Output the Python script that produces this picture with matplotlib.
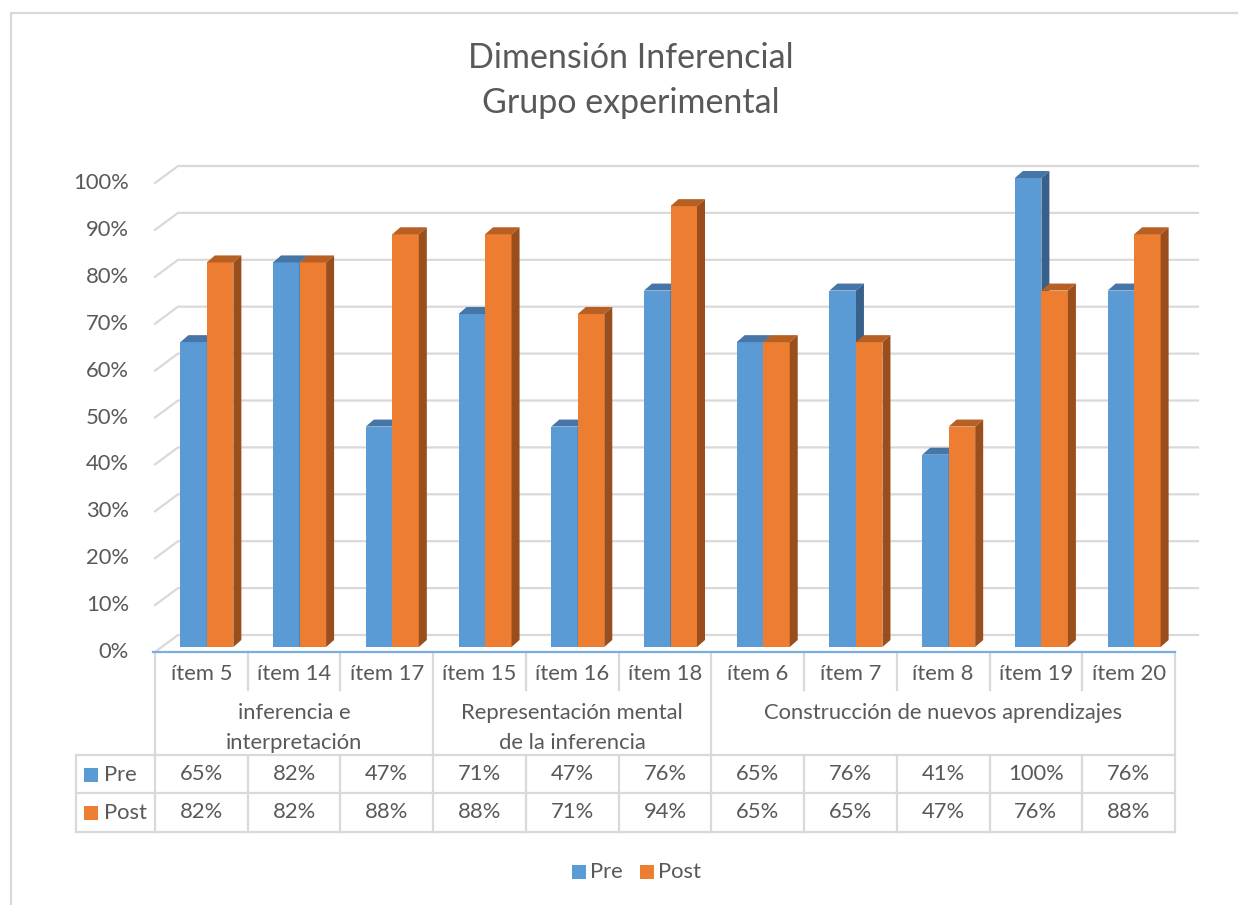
import numpy as np
import matplotlib
matplotlib.use('Agg')
import matplotlib.pyplot as plt
from matplotlib.patches import Polygon, Rectangle

# Data
items = ['ítem 5', 'ítem 14', 'ítem 17', 'ítem 15', 'ítem 16', 'ítem 18',
         'ítem 6', 'ítem 7', 'ítem 8', 'ítem 19', 'ítem 20']
groups = ['inferencia e\ninterpretación', 'Representación mental\nde la inferencia',
          'Construcción de nuevos aprendizajes']
group_sizes = [3, 3, 5]
pre = [0.65, 0.82, 0.47, 0.71, 0.47, 0.76, 0.65, 0.76, 0.41, 1.00, 0.76]
post = [0.82, 0.82, 0.88, 0.88, 0.71, 0.94, 0.65, 0.65, 0.47, 0.76, 0.88]
yticks = np.arange(0, 1.01, 0.1)

plt.rcParams['font.family'] = ['Lato', 'DejaVu Sans']
TXT = '#595959'
GRID = '#D9D9D9'
FS = 15.8

W, H = 1238, 905
fig = plt.figure(figsize=(W / 100, H / 100), dpi=100)

# plot area (front plane) in pixels
X0, X1, Y0, Y1 = 155, 1175, 652, 183
ax = fig.add_axes([X0 / W, (H - Y0) / H, (X1 - X0) / W, (Y0 - Y1) / H])
n = len(items)
ax.set_xlim(-0.5, n - 0.5)
ax.set_ylim(0, 1)
ax.axis('off')

PX = (X1 - X0) / n
PY = Y0 - Y1


def dx(p):
    return p / PX


def dy(p):
    return p / PY


def xv(p):  # pixel x -> data x
    return -0.5 + (p - X0) / PX


def yv(p):  # pixel y -> data y
    return (Y0 - p) / PY


# gridlines with a bit of depth
gdx, gdy = dx(23), dy(17)
for t in yticks:
    ax.plot([-0.5, -0.5 + gdx, n - 0.5 + gdx], [t, t + gdy, t + gdy],
            color=GRID, lw=1.6, zorder=1, clip_on=False)
    ax.text(xv(X0 - 26), t, f'{int(round(t * 100))}%', ha='right', va='center',
            fontsize=FS, color=TXT)

# axis line
ax.plot([xv(X0 - 2), n - 0.5], [0, 0], color='#7AAEE0', lw=1.6, zorder=2, clip_on=False)

# 3D bars
w = dx(26.5)
bz = dy(5)
ddx, ddy = dx(8), dy(7)
series = [(pre, '#5B9BD5', '#4676A8', '#38618A', -21),
          (post, '#ED7D31', '#B85F24', '#9A4E1C', -21 + 26.5)]
for i in range(n):
    for vals, c_front, c_top, c_side, off in series:
        v = vals[i]
        l = i + dx(off)
        ax.add_patch(Rectangle((l, bz), w, v, facecolor=c_front, lw=0, zorder=3,
                               clip_on=False))
        ax.add_patch(Polygon([(l, bz + v), (l + w, bz + v), (l + w + ddx, bz + v + ddy),
                              (l + ddx, bz + v + ddy)], closed=True,
                             facecolor=c_top, lw=0, zorder=3, clip_on=False))
        ax.add_patch(Polygon([(l + w, bz), (l + w + ddx, bz + ddy), (l + w + ddx, bz + v + ddy),
                              (l + w, bz + v)], closed=True,
                             facecolor=c_side, lw=0, zorder=3, clip_on=False))

# data table
R1, R2, R3, R4 = 690, 755, 793, 832
LX = 76
kw = dict(color=GRID, lw=1.6, clip_on=False, zorder=1)
for yy in (R2, R3, R4):
    ax.plot([xv(LX), n - 0.5], [yv(yy), yv(yy)], **kw)
ax.plot([xv(LX), xv(LX)], [yv(R2), yv(R4)], **kw)
bounds = np.cumsum([0] + group_sizes) - 0.5
for b in range(n + 1):
    xb = b - 0.5
    if xb in bounds:
        ax.plot([xb, xb], [0, yv(R4)], **kw)
    else:
        ax.plot([xb, xb], [0, yv(R1)], **kw)
        ax.plot([xb, xb], [yv(R2), yv(R4)], **kw)

for i, lab in enumerate(items):
    ax.text(i, yv(674), lab, ha='center', va='center', fontsize=FS, color=TXT)
    ax.text(i, yv(774), f'{round(pre[i] * 100)}%', ha='center', va='center', fontsize=FS, color=TXT)
    ax.text(i, yv(812), f'{round(post[i] * 100)}%', ha='center', va='center', fontsize=FS, color=TXT)

for g, lab in enumerate(groups):
    gc = (bounds[g] + bounds[g + 1]) / 2
    for k, line in enumerate(lab.split('\n')):
        ax.text(gc, yv(713 + 30 * k), line, ha='center', va='center', fontsize=FS, color=TXT)

# series keys in table
for name, col, yy in (('Pre', '#5B9BD5', 775), ('Post', '#ED7D31', 813)):
    fig.patches.append(Rectangle((84 / W, 1 - (yy + 7) / H), 14 / W, 14 / H,
                                 facecolor=col, lw=0, transform=fig.transFigure))
    fig.text(104 / W, 1 - yy / H, name, ha='left', va='center', fontsize=FS, color=TXT)

# legend
for name, col, x in (('Pre', '#5B9BD5', 572), ('Post', '#ED7D31', 640)):
    fig.patches.append(Rectangle((x / W, 1 - 879 / H), 14 / W, 14 / H,
                                 facecolor=col, lw=0, transform=fig.transFigure))
    fig.text((x + 18) / W, 1 - 872 / H, name, ha='left', va='center', fontsize=FS, color=TXT)

# title
fig.text(631 / W, 1 - 58 / H, 'Dimensión Inferencial', ha='center', va='center',
         fontsize=24.5, color=TXT)
fig.text(631 / W, 1 - 103 / H, 'Grupo experimental', ha='center', va='center',
         fontsize=24.5, color=TXT)

# chart border
fig.lines.append(plt.Line2D([11 / W, 11 / W, 1], [0, 1 - 13 / H, 1 - 13 / H],
                            transform=fig.transFigure, color=GRID, lw=1.6))

fig.savefig('out.png', dpi=100, facecolor='white')
